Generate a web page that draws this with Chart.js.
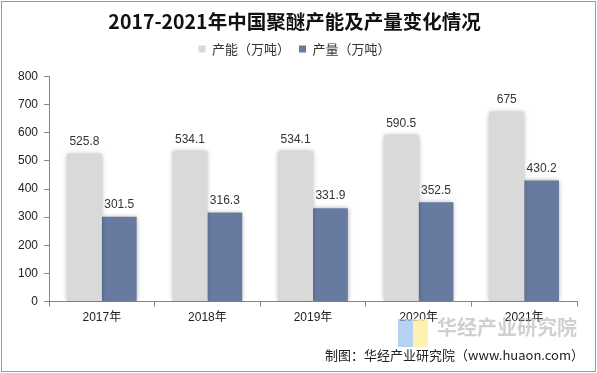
<!DOCTYPE html>
<html>
<head>
<meta charset="utf-8">
<script src="https://cdn.jsdelivr.net/npm/chart.js@4/dist/chart.umd.min.js"></script>
<style>
  html, body { margin: 0; padding: 0; background: #fff; }
  #wrap { position: relative; width: 597px; height: 373px; }
  #frame { position: absolute; left: 1px; top: 1px; width: 593px; height: 369px; border: 1px solid #9a9a9a; box-sizing: content-box; pointer-events: none; }
</style>
</head>
<body>
<div id="wrap">
  <canvas id="chart" width="597" height="373"></canvas>
  <div id="frame"></div>
</div>
<script>
// data
var years = ["2017年", "2018年", "2019年", "2020年", "2021年"];
var capacity = [525.8, 534.1, 534.1, 590.5, 675];
var output = [301.5, 316.3, 331.9, 352.5, 430.2];
var seriesNames = ["产能（万吨）", "产量（万吨）"];
var yTicks = [0, 100, 200, 300, 400, 500, 600, 700, 800];

var sansFont = "'Liberation Sans', 'Noto Sans CJK SC', sans-serif";

// extra space under the legend
var legendGap = {
    id: 'legendGap',
    beforeInit: function (chart) {
        var orig = chart.legend.fit;
        chart.legend.fit = function () {
            orig.bind(chart.legend)();
            this.height += 11;
        };
    }
};

// bar shadow
var shadowPlugin = {
    id: 'barShadow',
    beforeDatasetsDraw: function (chart) {
        var c = chart.ctx;
        c.save();
        c.shadowColor = 'rgba(0,0,0,0.35)';
        c.shadowBlur = 5;
        c.shadowOffsetX = 0;
        c.shadowOffsetY = 0;
    },
    afterDatasetsDraw: function (chart) {
        chart.ctx.restore();
    }
};

// value labels above bars
var labelPlugin = {
    id: 'valueLabels',
    afterDatasetsDraw: function (chart) {
        var c = chart.ctx;
        c.save();
        c.font = "12px " + sansFont;
        c.fillStyle = '#333';
        c.textAlign = 'center';
        c.textBaseline = 'bottom';
        chart.data.datasets.forEach(function (ds, i) {
            chart.getDatasetMeta(i).data.forEach(function (bar, j) {
                c.fillText(String(ds.data[j]), bar.x, bar.y - 6);
            });
        });
        c.restore();
    }
};

// watermark + source line
var sourcePlugin = {
    id: 'source',
    afterDraw: function (chart) {
        var c = chart.ctx;
        c.save();
        c.fillStyle = 'rgba(150,190,240,0.7)';
        c.fillRect(398, 319, 15, 28);
        c.fillStyle = 'rgba(255,236,160,0.8)';
        c.fillRect(413, 319, 15, 28);
        c.font = "bold 20px 'Noto Sans CJK SC', sans-serif";
        c.fillStyle = 'rgba(170,170,170,0.55)';
        c.textAlign = 'left';
        c.textBaseline = 'middle';
        c.fillText("华经产业研究院", 437, 327);
        c.font = "13px 'Noto Sans CJK SC', sans-serif";
        c.fillStyle = '#222';
        c.textAlign = 'right';
        c.fillText("制图：华经产业研究院（www.huaon.com）", 584, 355);
        c.restore();
    }
};

var ctx = document.getElementById("chart");

var chartGraph = new Chart(ctx, {
    type: 'bar',
    data: {
        labels: years,
        datasets: [
            {
                label: seriesNames[0],
                data: capacity,
                backgroundColor: '#d9d9d9',
                borderWidth: 0
            },
            {
                label: seriesNames[1],
                data: output,
                backgroundColor: '#677ba1',
                borderWidth: 0
            }
        ]
    },
    options: {
        responsive: false,
        animation: false,
        layout: {
            padding: { left: 12, right: 20, top: 2, bottom: 44 }
        },
        datasets: {
            bar: { categoryPercentage: 0.66, barPercentage: 1.0 }
        },
        plugins: {
            title: {
                display: true,
                text: "2017-2021年中国聚醚产能及产量变化情况",
                color: '#111',
                font: { family: "'Noto Sans CJK SC', serif", size: 19.5, weight: 'bold' },
                padding: { top: 8, bottom: 0 }
            },
            legend: {
                display: true,
                labels: {
                    boxWidth: 7,
                    boxHeight: 7,
                    color: '#333',
                    font: { family: "'Noto Sans CJK SC', sans-serif", size: 13 },
                    padding: 9
                }
            },
            tooltip: { enabled: false }
        },
        scales: {
            x: {
                grid: {
                    display: true,
                    drawOnChartArea: false,
                    drawTicks: true,
                    tickLength: 5,
                    color: '#868686'
                },
                border: { color: '#868686' },
                ticks: {
                    color: '#222',
                    font: { family: sansFont, size: 12 },
                    padding: 4
                }
            },
            y: {
                min: 0,
                max: 800,
                afterBuildTicks: function (axis) {
                    axis.ticks = yTicks.map(function (v) { return { value: v }; });
                },
                grid: {
                    display: true,
                    drawOnChartArea: false,
                    drawTicks: true,
                    tickLength: 5,
                    color: '#868686'
                },
                border: { color: '#868686' },
                ticks: {
                    color: '#222',
                    font: { family: sansFont, size: 12 },
                    padding: 6
                }
            }
        }
    },
    plugins: [legendGap, shadowPlugin, labelPlugin, sourcePlugin]
});
</script>
</body>
</html>
